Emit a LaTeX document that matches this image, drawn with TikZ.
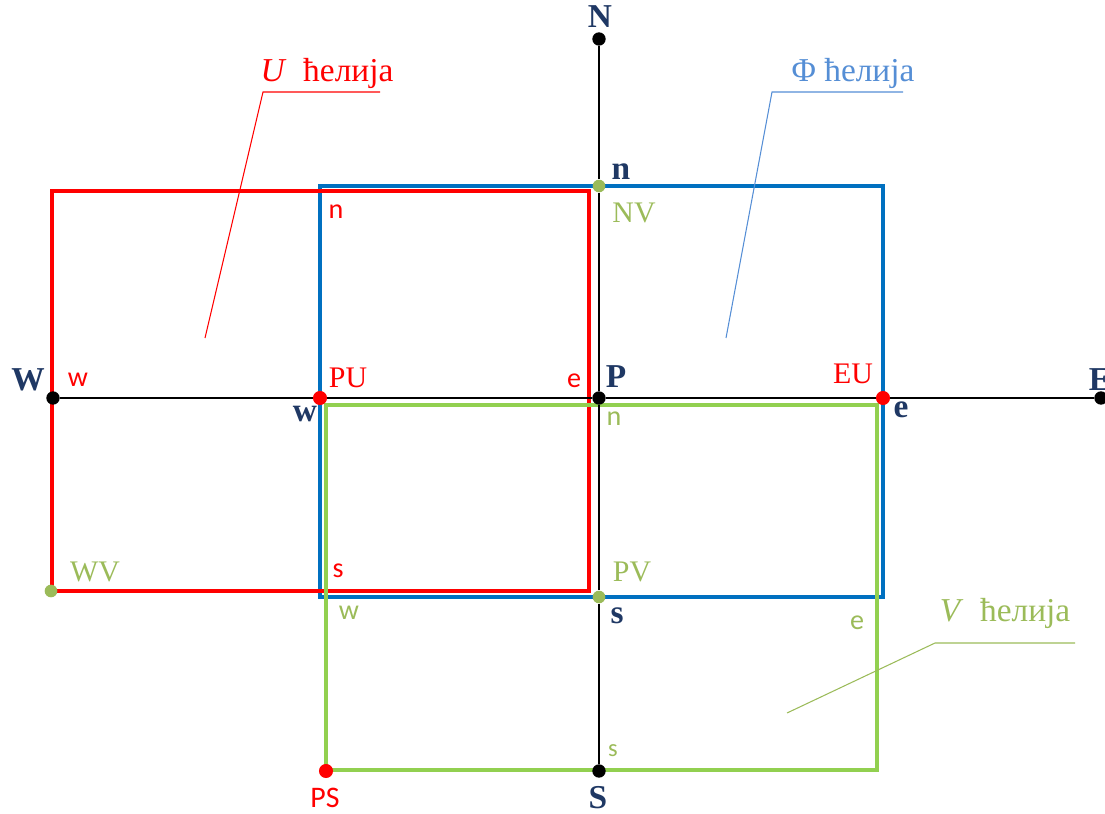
\documentclass[tikz,border=0pt]{standalone}
\usepackage{fontspec}
\setmainfont{Liberation Serif}
\newfontfamily\facefont{Carlito}
\usetikzlibrary{positioning}
\definecolor{ucellred}{HTML}{FF0000}
\definecolor{phicellblue}{HTML}{0070C0}
\definecolor{phitextblue}{HTML}{558ED5}
\definecolor{vcellgreen}{HTML}{92D050}
\definecolor{vtextgreen}{HTML}{9BBB59}
\definecolor{gridnavy}{HTML}{1F3864}
\tikzset{
  gridpoint/.style={circle,fill=black,inner sep=0pt,minimum size=7.6pt},
  upoint/.style={gridpoint,fill=ucellred,minimum size=8pt},
  vpoint/.style={gridpoint,fill=vtextgreen,minimum size=7.2pt},
  mainlabel/.style={font=\bfseries\fontsize{19}{19}\selectfont,text=gridnavy,inner sep=0pt},
  facelabel/.style={font=\facefont\fontsize{16}{16}\selectfont,inner sep=0pt},
  pointlabel/.style={font=\fontsize{17}{17}\selectfont,inner sep=0pt},
  cellname/.style={font=\fontsize{19}{19}\selectfont,inner sep=0pt},
  gridline/.style={draw=black,line width=1.3pt},
  cellbox/.style={line width=1.9pt},
  leader/.style={line width=0.6pt}
}

\begin{document}
\begin{tikzpicture}[x=0.02cm,y=-0.02cm]
  \useasboundingbox (0,0) rectangle (1105,814);
  % cell outlines
  \draw[cellbox,draw=phicellblue] (320,186) rectangle (883,597);
  \draw[cellbox,draw=ucellred] (52,191) rectangle (589,591);
  \draw[cellbox,draw=vcellgreen] (326,405) rectangle (877,770);
  % grid points
  \node[gridpoint] (W) at (53,398) {};
  \node[upoint] (PU) at (320,398) {};
  \node[gridpoint] (P) at (599,398) {};
  \node[upoint] (EU) at (883,398) {};
  \node[gridpoint] (E) at (1101,398) {};
  \node[gridpoint] (N) at (599,39) {};
  \node[vpoint] (NV) at (599,186) {};
  \node[vpoint] (PV) at (599,597) {};
  \node[gridpoint] (S) at (599,771) {};
  \node[upoint] (PS) at (326,771) {};
  \node[vpoint] (WV) at (51,591) {};
  \draw[gridline] (W) -- (PU) -- (P) -- (EU) -- (E);
  \draw[gridline] (N) -- (NV) -- (P) -- (PV) -- (S);
  % main nodes and faces
  \node[mainlabel] (Nlab) at (600,17) {N};
  \node[mainlabel] (Wlab) at (28,380) {W};
  \node[mainlabel] (Plab) at (616,377) {P};
  \node[mainlabel] (Elab) at (1100,380) {E};
  \node[mainlabel] (Slab) at (598,798) {S};
  \node[mainlabel] (nphi) at (621,172) {n};
  \node[mainlabel] (wphi) at (305,414) {w};
  \node[mainlabel] (ephi) at (901,410) {e};
  \node[mainlabel] (sphi) at (617,616) {s};
  % U cell
  \node[facelabel,text=ucellred] (nu) at (336,212) {n};
  \node[facelabel,text=ucellred] (wu) at (78,380) {w};
  \node[facelabel,text=ucellred] (eu) at (574,381) {e};
  \node[facelabel,text=ucellred] (su) at (338,571) {s};
  \node[pointlabel,text=ucellred] (PUlab) at (348,378) {PU};
  \node[pointlabel,text=ucellred] (EUlab) at (853,374) {EU};
  \node[facelabel,text=ucellred,font=\facefont\fontsize{17}{17}\selectfont] (PSlab) at (325,798) {PS};
  % V cell
  \node[facelabel,text=vtextgreen] (nv) at (614,419) {n};
  \node[facelabel,text=vtextgreen] (wv) at (349,613) {w};
  \node[facelabel,text=vtextgreen] (ev) at (857,623) {e};
  \node[facelabel,text=vtextgreen,font=\facefont\fontsize{14}{14}\selectfont] (sv) at (613,751) {s};
  \node[pointlabel,text=vtextgreen] (NVlab) at (634,213) {NV};
  \node[pointlabel,text=vtextgreen] (PVlab) at (632,572) {PV};
  \node[pointlabel,text=vtextgreen] (WVlab) at (95,572) {WV};
  % cell names with leaders
  \node[cellname,text=ucellred] (ucell) at (327,73) {\textit{U}\ \ ћелија};
  \node[cellname,text=phitextblue] (phicell) at (853,73) {Φ ћелија};
  \node[cellname,text=vtextgreen] (vcell) at (1005,613) {\textit{V}\ \ ћелија};
  \coordinate (uend) at (380,92);
  \coordinate (uknee) at (263,92);
  \coordinate (utip) at (205,338);
  \coordinate (phiend) at (903,92);
  \coordinate (phiknee) at (772,92);
  \coordinate (phitip) at (726,338);
  \coordinate (vend) at (1075,643);
  \coordinate (vknee) at (935,643);
  \coordinate (vtip) at (787,713);
  \draw[leader,draw=ucellred] (uend) -- (uknee) -- (utip);
  \draw[leader,draw=phitextblue] (phiend) -- (phiknee) -- (phitip);
  \draw[leader,draw=vtextgreen] (vend) -- (vknee) -- (vtip);
\end{tikzpicture}
\end{document}
